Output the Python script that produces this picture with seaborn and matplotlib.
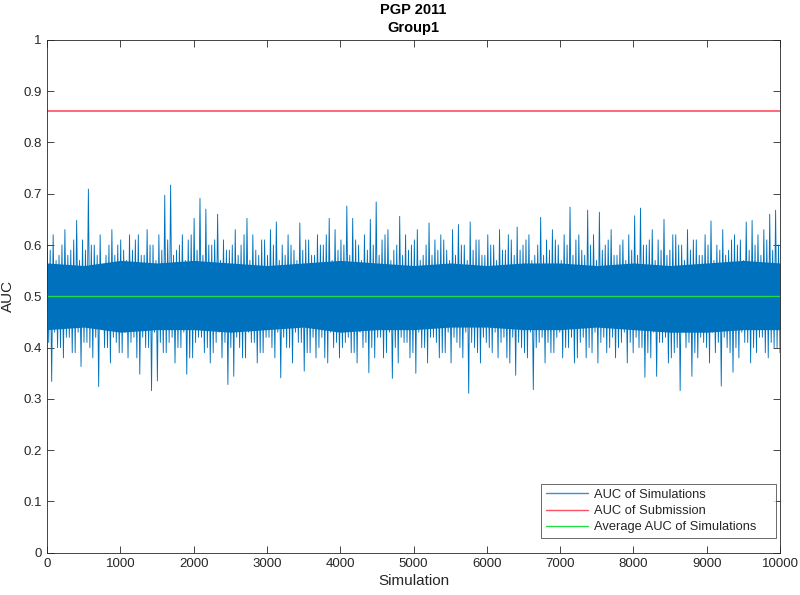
import numpy as np
import pandas as pd
import seaborn as sns
import matplotlib
matplotlib.use('Agg')
import matplotlib.pyplot as plt
from matplotlib.lines import Line2D

# swings of the simulated AUC trace (left to right)
# big swings (spikes included)
auc_hi = [0.60, 0.62, 0.58, 0.63, 0.59, 0.648, 0.61, 0.709, 0.60, 0.62,
          0.58, 0.63, 0.60, 0.59, 0.62, 0.61, 0.58, 0.63, 0.60, 0.62,
          0.697, 0.717, 0.59, 0.62, 0.61, 0.652, 0.691, 0.67, 0.60, 0.66,
          0.61, 0.59, 0.63, 0.60, 0.652, 0.62, 0.58, 0.61, 0.63, 0.645,
          0.60, 0.62, 0.59, 0.643, 0.61, 0.58, 0.62, 0.60, 0.652, 0.63,
          0.61, 0.676, 0.652, 0.60, 0.62, 0.65, 0.684, 0.61, 0.63, 0.59,
          0.656, 0.62, 0.60, 0.63, 0.58, 0.643, 0.61, 0.62, 0.59, 0.63,
          0.64, 0.60, 0.645, 0.61, 0.58, 0.62, 0.60, 0.63, 0.59, 0.61,
          0.635, 0.60, 0.62, 0.58, 0.654, 0.61, 0.63, 0.60, 0.62, 0.674,
          0.61, 0.59, 0.668, 0.62, 0.664, 0.60, 0.63, 0.58, 0.61, 0.62,
          0.657, 0.672, 0.60, 0.63, 0.61, 0.65, 0.59, 0.62, 0.60, 0.63,
          0.61, 0.58, 0.62, 0.647, 0.60, 0.63, 0.59, 0.62, 0.61, 0.645,
          0.648, 0.62, 0.63, 0.66, 0.668]
auc_lo = [0.334, 0.40, 0.38, 0.42, 0.39, 0.363, 0.41, 0.38, 0.324, 0.40,
          0.37, 0.41, 0.39, 0.38, 0.42, 0.348, 0.40, 0.316, 0.335, 0.39,
          0.41, 0.37, 0.40, 0.348, 0.38, 0.42, 0.39, 0.37, 0.41, 0.38,
          0.328, 0.344, 0.40, 0.38, 0.41, 0.37, 0.39, 0.42, 0.38, 0.341,
          0.40, 0.37, 0.41, 0.354, 0.39, 0.38, 0.42, 0.37, 0.40, 0.38,
          0.41, 0.39, 0.37, 0.40, 0.351, 0.38, 0.42, 0.39, 0.34, 0.37,
          0.41, 0.38, 0.35, 0.40, 0.37, 0.42, 0.38, 0.39, 0.37, 0.41,
          0.38, 0.311, 0.40, 0.37, 0.41, 0.39, 0.38, 0.42, 0.37, 0.346,
          0.40, 0.38, 0.318, 0.41, 0.37, 0.39, 0.42, 0.38, 0.40, 0.37,
          0.41, 0.38, 0.39, 0.37, 0.42, 0.40, 0.38, 0.41, 0.37, 0.39,
          0.40, 0.342, 0.38, 0.344, 0.41, 0.37, 0.39, 0.316, 0.40, 0.344,
          0.38, 0.41, 0.37, 0.39, 0.325, 0.40, 0.352, 0.38, 0.41, 0.37,
          0.39, 0.42, 0.38, 0.40, 0.39]
# moderate swings in between
mid_hi = [0.59, 0.57, 0.60, 0.58, 0.61, 0.57, 0.59, 0.60, 0.58, 0.56,
          0.60, 0.58, 0.61, 0.57, 0.59, 0.62, 0.58, 0.60, 0.57, 0.59,
          0.61, 0.58, 0.60, 0.57, 0.62, 0.59, 0.58, 0.60, 0.61, 0.57,
          0.59, 0.60, 0.58, 0.62, 0.57, 0.59, 0.61, 0.58, 0.60, 0.57,
          0.58, 0.60, 0.57, 0.59, 0.61, 0.58, 0.60, 0.62, 0.57, 0.59,
          0.60, 0.58, 0.61, 0.57, 0.59, 0.60, 0.58, 0.62, 0.57, 0.60,
          0.58, 0.59, 0.61, 0.57, 0.60, 0.58, 0.59, 0.61, 0.57, 0.58,
          0.60, 0.57, 0.59, 0.61, 0.58, 0.60, 0.57, 0.59, 0.62, 0.58,
          0.59, 0.61, 0.57, 0.60, 0.58, 0.59, 0.61, 0.57, 0.60, 0.58,
          0.62, 0.58, 0.60, 0.57, 0.59, 0.61, 0.58, 0.60, 0.57, 0.59,
          0.58, 0.60, 0.61, 0.57, 0.59, 0.58, 0.62, 0.60, 0.57, 0.59,
          0.61, 0.58, 0.60, 0.57, 0.59, 0.58, 0.61, 0.60, 0.57, 0.59,
          0.60, 0.58, 0.61, 0.59, 0.60]
mid_lo = [0.41, 0.43, 0.40, 0.42, 0.39, 0.43, 0.41, 0.40, 0.42, 0.44,
          0.40, 0.42, 0.39, 0.43, 0.41, 0.38, 0.42, 0.40, 0.43, 0.41,
          0.39, 0.42, 0.40, 0.43, 0.38, 0.41, 0.42, 0.40, 0.39, 0.43,
          0.41, 0.40, 0.42, 0.38, 0.43, 0.41, 0.39, 0.42, 0.40, 0.43,
          0.42, 0.40, 0.43, 0.41, 0.39, 0.42, 0.40, 0.38, 0.43, 0.41,
          0.40, 0.42, 0.39, 0.43, 0.41, 0.40, 0.42, 0.38, 0.43, 0.40,
          0.42, 0.41, 0.39, 0.43, 0.40, 0.42, 0.41, 0.39, 0.43, 0.42,
          0.40, 0.43, 0.41, 0.39, 0.42, 0.40, 0.43, 0.41, 0.38, 0.42,
          0.41, 0.39, 0.43, 0.40, 0.42, 0.41, 0.39, 0.43, 0.40, 0.42,
          0.38, 0.42, 0.40, 0.43, 0.41, 0.39, 0.42, 0.40, 0.43, 0.41,
          0.42, 0.40, 0.39, 0.43, 0.41, 0.42, 0.38, 0.40, 0.43, 0.41,
          0.39, 0.42, 0.40, 0.43, 0.41, 0.42, 0.39, 0.40, 0.43, 0.41,
          0.40, 0.42, 0.39, 0.41, 0.40]

# dense core of the trace (where single lines can't be told apart)
core_x = [0, 500, 1000, 1500, 2000, 2500, 3000, 3500, 4000, 4500, 5000,
          5500, 6000, 6500, 7000, 7500, 8000, 8500, 9000, 9500, 10000]
core_hi = [0.565, 0.56, 0.57, 0.565, 0.57, 0.565, 0.56, 0.565, 0.57, 0.565, 0.56,
           0.565, 0.56, 0.565, 0.565, 0.56, 0.565, 0.56, 0.565, 0.57, 0.565]
core_lo = [0.435, 0.44, 0.43, 0.435, 0.435, 0.43, 0.435, 0.44, 0.43, 0.435, 0.435,
           0.44, 0.44, 0.435, 0.435, 0.44, 0.435, 0.43, 0.43, 0.435, 0.435]

submission_auc = 0.861
average_auc = 0.5
n_sim = 10000

auc = np.column_stack([auc_hi, mid_lo, mid_hi, auc_lo]).ravel()
df = pd.DataFrame({'Simulation': np.linspace(1, n_sim, len(auc)), 'AUC': auc})

sns.set_style('white')
plt.rcParams['font.family'] = ['Liberation Sans', 'DejaVu Sans']
dark = '#262626'
blue = '#0072BD'
red = '#ff4d62'
green = '#22dd44'

fig = plt.figure(figsize=(8, 5.95), dpi=100)
ax = fig.add_axes([0.059, 0.071, 0.916, 0.862])

ax.fill_between(core_x, core_lo, core_hi, color=blue, lw=0)
sns.lineplot(x='Simulation', y='AUC', data=df, ax=ax, color=blue, lw=0.65,
             estimator=None, sort=False, legend=False)
ax.axhline(submission_auc, color=red, lw=1.2)
ax.axhline(average_auc, color=green, lw=1.0)

ax.set_xlim(0, n_sim)
ax.set_ylim(0, 1)
ax.set_xticks(range(0, n_sim + 1, 1000))
ax.set_yticks(np.arange(0, 1.01, 0.1))
ax.set_yticklabels(['0', '0.1', '0.2', '0.3', '0.4', '0.5', '0.6', '0.7', '0.8', '0.9', '1'])
ax.tick_params(direction='in', length=5, width=0.6, color=dark, labelcolor=dark,
               labelsize=9.5, top=True, right=True, bottom=True, left=True, pad=4)
for s in ax.spines.values():
    s.set_visible(True)
    s.set_color(dark)
    s.set_linewidth(0.6)

ax.set_xlabel('Simulation', fontsize=11, color=dark, labelpad=3)
ax.set_ylabel('AUC', fontsize=11, color=dark, labelpad=6)
ax.set_title('PGP 2011\nGroup1', fontsize=10.5, fontweight='bold', color='black',
             linespacing=1.35, pad=6)

handles = [Line2D([], [], color='#3d8fd0', lw=1.0),
           Line2D([], [], color=red, lw=1.0),
           Line2D([], [], color=green, lw=1.0)]
# trailing spaces give the extra right margin of the reference legend box
labels = ['AUC of Simulations', 'AUC of Submission', 'Average AUC of Simulations    ']
leg = ax.legend(handles, labels, loc='lower right', fontsize=9.3, frameon=True,
                fancybox=False, handlelength=3.3, handletextpad=0.45,
                borderpad=0.35, labelspacing=0.32, borderaxespad=0,
                bbox_to_anchor=(0.994, 0.029))
leg.get_frame().set_edgecolor(dark)
leg.get_frame().set_linewidth(0.6)
for t in leg.get_texts():
    t.set_color(dark)

plt.savefig('out.png', dpi=100)
